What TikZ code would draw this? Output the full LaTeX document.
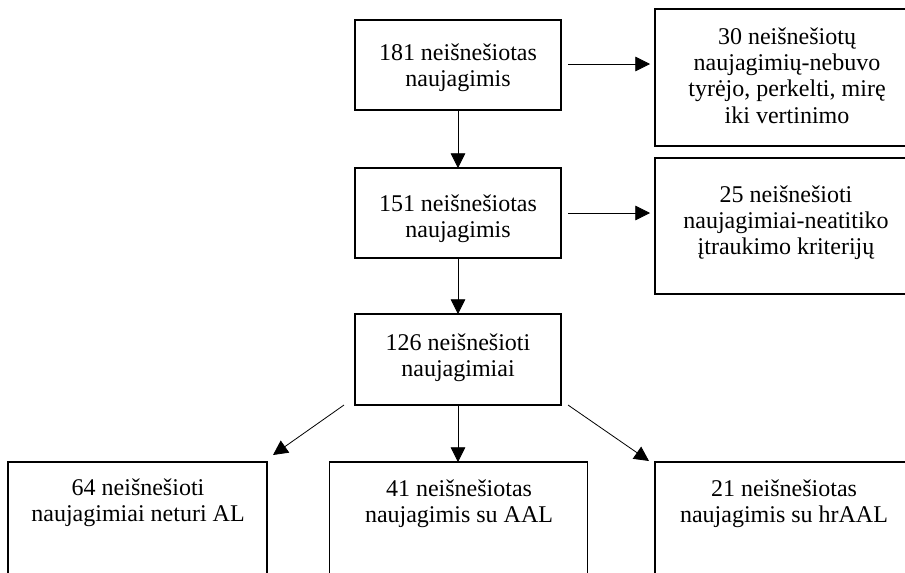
\documentclass[tikz,border=0pt]{standalone}
\usepackage{fontspec}
\setmainfont{Liberation Serif}
\usetikzlibrary{arrows.meta,calc}
\tikzset{
  box/.style={draw, line width=1.1pt, inner sep=0pt, outer sep=0pt},
  txt/.style={inner sep=0pt, outer sep=0pt, anchor=base, font=\fontsize{18}{19.75}\selectfont},
  conn/.style={line width=0.6pt, -{Triangle[length=11pt,width=11pt]}}
}
\newcommand{\boxtext}[1]{\parbox[t]{260pt}{\centering #1}}
\begin{document}
\begin{tikzpicture}[x=0.75pt,y=-0.75pt]
\useasboundingbox (0,0) rectangle (905,572);
\clip (0,0) rectangle (905,572);
\fill[white] (0,0) rectangle (905,572);
% boxes
\node[box, minimum width=154.5pt, minimum height=67.5pt] (b1) at (458,65) {};
\node[box, minimum width=154.5pt, minimum height=67.5pt] (b2) at (458,213) {};
\node[box, minimum width=154.5pt, minimum height=68.25pt] (b3) at (458,359.5) {};
\node[box, minimum width=198pt, minimum height=102.75pt] (r1) at (787,77.5) {};
\node[box, minimum width=198pt, minimum height=102pt] (r2) at (787,226) {};
\node[box, minimum width=194.25pt, minimum height=118.5pt] (bl) at (137.5,541) {};
\node[box, minimum width=193.5pt, minimum height=118.5pt] (bm) at (458.5,541) {};
\node[box, minimum width=193.5pt, minimum height=118.5pt] (br) at (784,541) {};
% texts
\node[txt] (t1) at (458,60.5) {\boxtext{181 neišnešiotas\\naujagimis}};
\node[txt] (t2) at (458,211) {\boxtext{151 neišnešiotas\\naujagimis}};
\node[txt] (t3) at (458,350) {\boxtext{126 neišnešioti\\naujagimiai}};
\node[txt] (tr1) at (787,44) {\boxtext{30 neišnešiotų\\naujagimių-nebuvo\\tyrėjo, perkelti, mirę\\iki vertinimo}};
\node[txt] (tr2) at (786,202) {\boxtext{25 neišnešioti\\naujagimiai-neatitiko\\įtraukimo kriterijų}};
\node[txt] (tbl) at (138,495.5) {\boxtext{64 neišnešioti\\naujagimiai neturi AL}};
\node[txt] (tbm) at (459,496) {\boxtext{41 neišnešiotas\\naujagimis su AAL}};
\node[txt] (tbr) at (784,496) {\boxtext{21 neišnešiotas\\naujagimis su hrAAL}};
% connectors
\draw[conn] (b1.south) -- (b2.north);
\draw[conn] (b2.south) -- (b3.north);
\draw[conn] (b3.south) -- (b3.south |- bm.north);
\coordinate (h1s) at ([xshift=5.25pt,yshift=0.75pt]b1.east);
\coordinate (h1e) at ([xshift=-3.75pt]h1s -| r1.west);
\draw[conn] (h1s) -- (h1e);
\coordinate (h2s) at ([xshift=5.25pt]b2.east);
\coordinate (h2e) at ([xshift=-3.75pt]h2s -| r2.west);
\draw[conn] (h2s) -- (h2e);
\coordinate (d1s) at ([xshift=-8.25pt]b3.south west);
\coordinate (d1e) at ([xshift=4.5pt,yshift=5.25pt]bl.north east);
\draw[conn] (d1s) -- (d1e);
\coordinate (d2s) at ([xshift=5.25pt]b3.south east);
\coordinate (d2e) at ([xshift=-4.5pt,yshift=0.75pt]br.north west);
\draw[conn] (d2s) -- (d2e);
\end{tikzpicture}
\end{document}
